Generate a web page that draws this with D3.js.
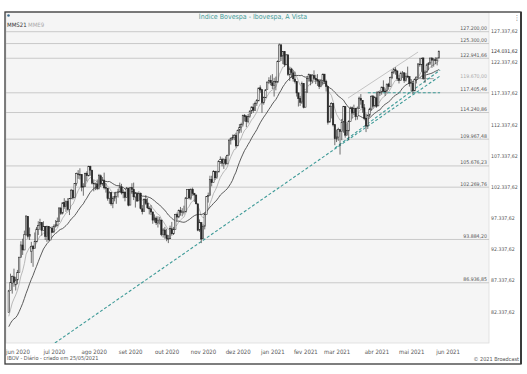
<!DOCTYPE html>
<html>
<head>
<meta charset="utf-8">
<script src="https://cdn.jsdelivr.net/npm/d3@7"></script>
<style>
  body { margin: 0; background: #fff; }
  text { font-family: "Liberation Sans Narrow", "DejaVu Sans Condensed", "Liberation Sans", sans-serif; }
</style>
</head>
<body>
<div id="chart"></div>
<script>
// Ibovespa daily candles, values in thousands of points: [open, high, low, close]
const may20 = [
  [82.2,85.8,82.2,85.66],[85.7,88.4,85.7,86.95],[86.9,88.1,85.2,87.95],[87.9,89.2,86.3,87.03],[86.6,87.9,85.7,87.40]
];
const jun20 = [
  [87.4,89.0,86.7,88.62],[88.6,91.0,88.6,91.05],[91.0,93.6,91.0,93.00],[93.0,94.0,91.4,92.21],[92.2,95.3,92.2,94.64],
  [94.6,97.7,94.6,97.65],[97.6,97.6,94.0,94.38],[94.4,95.8,93.8,94.69],[92.0,93.5,90.1,92.80],[92.8,93.0,89.5,92.38],
  [92.4,95.0,92.4,93.53],[93.5,95.9,93.5,95.55],[95.5,96.8,94.6,96.13],[96.1,97.2,95.4,96.57],[96.6,96.6,94.5,95.34],
  [95.3,96.8,95.3,95.98],[96.0,96.0,93.8,94.38],[94.4,96.1,93.5,95.98],[96.0,96.0,93.7,93.83],[93.8,95.9,93.8,95.74],
  [95.7,96.0,94.9,95.06]
];
const jul20 = [
  [95.1,96.3,94.9,95.96],[96.0,97.0,95.8,96.24],[96.2,97.4,96.0,96.77],[96.8,99.0,96.8,98.94],[98.9,99.1,97.8,98.06],
  [98.1,99.8,97.9,99.77],[99.8,100.5,98.8,99.16],[99.2,100.1,98.3,100.03],[100.0,100.5,98.5,98.70],[98.7,100.5,97.8,100.44],
  [100.4,102.0,100.4,101.79],[101.8,101.8,100.3,100.55],[100.6,102.9,100.5,102.89],[102.9,104.6,102.5,104.43],[104.4,105.0,103.6,104.31],
  [104.3,105.3,103.5,104.29],[104.3,104.3,101.6,102.29],[102.3,102.9,100.9,102.38],[102.4,104.6,102.4,104.48],[104.5,104.8,103.2,104.11],
  [104.1,105.7,104.0,105.61],[105.6,105.7,104.1,105.01],[105.0,105.0,102.7,102.91]
];
const aug20 = [
  [102.9,103.4,101.6,102.83],[102.8,103.0,101.8,102.80],[102.8,103.5,101.8,102.06],[102.1,104.4,101.9,104.13],[104.1,104.3,102.3,102.78],
  [102.8,103.9,102.5,103.44],[103.4,104.6,101.9,102.17],[102.2,102.9,101.4,102.12],[102.1,102.1,100.1,100.46],[100.5,101.6,99.6,101.35],
  [101.4,101.4,99.3,99.60],[99.6,100.8,98.9,100.46],[100.5,101.5,100.0,100.80],[100.8,101.3,99.6,101.47],[101.5,102.0,100.6,101.52],
  [101.5,103.0,101.5,102.30],[102.3,102.8,101.1,101.35],[101.4,101.9,100.5,101.45],[101.5,101.5,100.0,100.63],[100.6,102.3,100.6,102.14],
  [102.1,102.2,99.2,99.37]
];
const sep20 = [
  [99.4,102.3,99.4,102.17],[102.2,102.9,101.2,101.91],[101.9,103.0,100.2,100.72],[100.7,101.5,99.0,101.24],[101.2,101.5,99.9,100.05],
  [100.1,101.6,100.0,101.29],[101.3,101.4,98.7,98.84],[98.8,99.4,97.9,98.36],[98.4,100.5,98.4,100.27],[100.3,101.0,99.4,99.65],
  [99.7,100.5,98.8,98.95],[98.9,99.2,97.9,98.79],[98.8,99.4,97.8,98.29],[98.3,98.3,96.4,96.99],[97.0,97.9,96.6,97.35],
  [97.3,97.6,96.2,96.55],[96.5,97.6,95.8,96.99],[97.0,97.5,96.3,97.00],[97.0,97.0,94.4,94.67],[94.7,95.7,94.2,95.40],
  [95.4,95.9,94.0,94.60]
];
const oct20 = [
  [94.6,95.6,93.6,94.02],[94.0,94.6,93.3,94.02],[94.0,96.1,94.0,95.62],[95.6,96.7,94.5,94.80],[94.8,95.9,94.6,95.53],
  [95.5,98.0,95.5,97.92],[97.9,98.2,96.9,97.48],[97.5,98.7,97.3,98.50],[98.5,99.1,97.7,98.25],[98.2,98.9,97.6,98.31],
  [98.3,99.3,97.9,98.31],[98.3,100.7,98.3,100.54],[100.5,101.9,100.4,101.92],[101.9,102.0,100.3,100.55],[100.5,102.1,100.2,101.92],
  [101.9,102.2,100.9,101.26],[101.3,101.3,99.9,101.02],[101.0,101.1,99.5,99.61],[99.6,99.6,95.2,95.37],[95.4,97.1,95.1,96.58],
  [96.6,96.6,93.3,93.95]
];
const nov20 = [
  [94.0,96.3,94.0,95.98],[96.0,98.2,95.5,97.87],[97.9,100.8,97.9,100.75],[100.8,101.4,99.8,100.93],[100.9,104.1,100.9,103.52],
  [103.5,104.1,102.4,102.99],[103.0,105.0,103.0,104.81],[104.8,104.9,103.4,103.78],[103.8,104.9,103.6,104.72],[104.7,106.6,104.7,106.43],
  [106.4,107.2,106.0,106.67],[106.7,107.0,105.6,106.12],[106.1,106.9,105.2,106.67],[106.7,107.2,105.8,106.04],[106.0,107.5,106.0,107.38],
  [107.4,110.0,107.4,109.79],[109.8,110.2,109.1,110.13],[110.1,110.7,109.8,110.23],[110.2,110.8,109.8,110.58],[110.6,111.0,108.6,108.89]
];
const dec20 = [
  [108.9,111.5,108.9,111.40],[111.4,112.4,110.9,111.88],[111.9,112.6,111.0,112.29],[112.3,113.9,112.0,113.75],[113.8,114.0,112.8,113.59],
  [113.6,113.8,111.9,112.78],[112.8,114.0,112.5,113.62],[113.6,114.6,113.4,114.46],[114.5,115.2,114.0,115.13],[115.1,115.7,114.2,114.61],
  [114.6,116.0,114.6,115.71],[115.7,116.4,115.3,116.15],[116.1,118.2,116.1,118.17],[118.2,118.6,117.4,117.86],[117.9,117.9,114.2,115.82],
  [115.8,116.8,115.5,116.64],[116.6,118.0,116.6,117.86],[117.9,119.2,117.9,119.12],[119.1,119.9,118.8,119.41],[119.4,120.2,118.6,119.02]
];
const jan21 = [
  [119.0,120.4,118.0,118.56],[118.6,119.8,116.8,119.22],[119.2,120.0,117.8,119.10],[119.1,122.6,119.1,122.39],[122.4,125.3,122.4,125.08],
  [125.1,125.1,122.5,123.26],[123.3,124.1,122.0,124.00],[124.0,124.0,121.6,121.93],[121.9,123.6,121.9,123.48],[123.5,123.5,120.1,120.35],
  [120.3,121.5,119.3,121.24],[121.2,121.4,119.8,120.64],[120.6,121.0,119.2,119.65],[119.6,120.8,118.9,119.20],[119.2,119.2,116.8,117.38],
  [117.4,117.4,115.2,116.46],[116.5,116.9,115.3,115.88],[115.9,119.2,115.6,118.88],[118.9,118.9,114.9,115.07]
];
const feb21 = [
  [115.1,117.6,115.1,117.52],[117.5,120.0,117.5,119.72],[119.7,120.5,119.2,120.31],[120.3,120.3,118.6,119.26],[119.3,120.4,118.9,120.24],
  [120.2,121.0,119.4,119.70],[119.7,120.3,118.8,119.47],[119.5,120.4,118.5,119.30],[119.3,119.6,118.0,118.43],[118.4,119.6,118.3,119.43],
  [119.4,120.5,118.6,120.36],[120.4,120.4,118.9,119.20],[119.2,119.5,117.6,118.43],[118.4,118.4,112.3,112.67],[112.7,115.4,112.7,115.23],
  [115.2,115.9,113.3,115.67],[115.7,115.7,112.0,112.26],[112.3,112.3,109.0,110.04]
];
const mar21 = [
  [110.0,111.5,109.5,110.34],[110.3,111.8,109.7,111.54],[111.5,111.5,107.5,111.18],[111.2,113.2,109.8,112.69],[112.7,115.3,111.0,115.20],
  [115.2,115.2,110.2,110.61],[110.6,112.5,110.6,111.33],[111.3,113.0,109.8,112.78],[112.8,115.2,112.8,114.98],[115.0,115.2,113.3,114.16],
  [114.2,115.5,113.8,114.85],[114.9,115.0,113.0,113.62],[113.6,115.2,113.1,114.94],[114.9,116.8,114.9,116.55],[116.5,117.2,115.5,116.22],
  [116.2,116.2,114.2,114.98],[115.0,115.6,113.0,113.26],[113.3,114.0,111.1,112.06],[112.1,113.9,111.6,113.75],[113.8,115.0,113.5,114.78],
  [114.8,117.0,114.5,116.85],[116.9,117.0,114.9,115.25],[115.3,116.9,115.2,116.63]
];
const apr21 = [
  [116.6,117.6,115.0,115.25],[115.3,117.7,115.3,117.52],[117.5,117.8,116.9,117.50],[117.5,118.4,117.1,118.31],[118.3,119.4,117.6,117.62],
  [117.6,118.1,116.9,117.67],[117.7,118.8,117.3,118.81],[118.8,119.0,117.9,118.40],[118.4,120.0,118.4,119.87],[119.9,121.0,119.6,120.70],
  [120.7,121.4,120.4,121.11],[121.1,121.5,120.3,120.93],[120.9,121.0,119.3,119.66],[119.7,120.3,118.9,119.37],[119.4,120.8,119.4,120.53],
  [120.5,120.9,119.8,120.59],[120.6,120.7,119.0,119.39],[119.4,120.6,119.2,120.07],[120.1,121.6,119.8,119.96],[120.0,120.0,118.4,118.89]
];
const may21 = [
  [118.9,119.6,117.6,118.97],[119.0,119.0,117.2,117.71],[117.7,119.7,117.7,119.56],[119.6,120.0,118.9,119.92],[119.9,122.1,119.9,122.04],
  [122.0,123.0,121.6,121.91],[121.9,123.0,120.8,122.96],[123.0,123.0,119.5,119.71],[119.7,121.0,119.0,120.71],[120.7,122.1,120.7,121.88],
  [121.9,122.3,121.0,122.16],[122.2,123.0,121.9,122.98],[123.0,123.0,121.4,122.64],[122.6,123.0,121.6,122.70],[122.7,123.1,122.0,122.59],
  [122.6,123.0,121.8,122.99],[123.0,124.2,122.9,124.03162]
];
// closes before the first candle (needed to start the moving averages)
const prevCloses = [75.33,78.97,81.31,83.17,80.51,78.88,79.47,78.12,78.12,80.26,79.06,77.77,77.87,79.01,77.56,81.19,80.74,81.32,81.32,82.17];

// x axis: month labels and the trading-day index where each month starts (0 = 01/06/2020)
const monthLabels = ["jun 2020","jul 2020","ago 2020","set 2020","out 2020","nov 2020","dez 2020","jan 2021","fev 2021","mar 2021","abr 2021","mai 2021","jun 2021"];
const monthStarts = [0,21,44,65,86,107,127,147,166,184,207,227,248];

// right axis ticks and horizontal levels (thousands)
const rightTicks = [127.33762,122.33762,117.33762,112.33762,107.33762,102.33762,97.33762,92.33762,87.33762,82.33762];
const levels = [127.2,125.3,122.94166,117.40546,114.24086,109.96748,105.67623,102.26976,93.8842,86.93685];
const shortLevel = 119.67;

// drawn trend lines: [[dayIndex, value], [dayIndex, value]]
const supportLong = [[21.6,77.28],[243.7,120.1]];
const supportShort = [[183.1,108.55],[243.7,121.06]];
const channelTop = [[190.6,116.55],[231,123.94]];
const dashedLevel = [[202,117.40546],[243.7,117.40546]];
const shortLevelSpan = [232,240];

const firstIndex = -5;

const width = 527, height = 374;
const plot = {left: 6, right: 489, top: 12, bottom: 343};
const teal = "#3f9b98";

const fmt = d3.formatLocale({decimal: ",", thousands: ".", grouping: [3], currency: ["", ""]}).format(",.2f");
const label = v => fmt(v * 1000);

const candles = [].concat(may20, jun20, jul20, aug20, sep20, oct20, nov20, dec20, jan21, feb21, mar21, apr21, may21)
  .map((d, k) => ({i: firstIndex + k, o: d[0], h: d[1], l: d[2], c: d[3]}));

const svg = d3.select("#chart").append("svg")
  .attr("width", width)
  .attr("height", height);

const x = d3.scaleLinear().domain([-6.6, 271.9]).range([plot.left, plot.right]);
const y = d3.scaleLinear().domain([77.28, 130.36]).range([plot.bottom, plot.top]);

// plot background
svg.append("rect")
  .attr("x", plot.left).attr("y", plot.top)
  .attr("width", plot.right - plot.left).attr("height", plot.bottom - plot.top)
  .attr("fill", "#f5f5f5").attr("stroke", "#dcdcdc").attr("stroke-width", 0.8);

svg.append("clipPath").attr("id", "clip")
  .append("rect")
  .attr("x", plot.left).attr("y", plot.top)
  .attr("width", plot.right - plot.left).attr("height", plot.bottom - plot.top);

const g = svg.append("g").attr("clip-path", "url(#clip)");

// horizontal levels
g.selectAll(".level").data(levels).enter().append("line")
  .attr("x1", plot.left).attr("x2", plot.right)
  .attr("y1", d => y(d)).attr("y2", d => y(d))
  .attr("stroke", "#c4c4c4").attr("stroke-width", 0.9);

svg.selectAll(".levelLabel").data(levels).enter().append("text")
  .attr("x", plot.right - 2).attr("y", d => y(d) - 1.6)
  .attr("text-anchor", "end").attr("font-size", 5.2).attr("fill", "#555")
  .text(label);

g.append("line")
  .attr("x1", x(shortLevelSpan[0])).attr("x2", x(shortLevelSpan[1]))
  .attr("y1", y(shortLevel)).attr("y2", y(shortLevel))
  .attr("stroke", "#888").attr("stroke-width", 0.8);
svg.append("text")
  .attr("x", plot.right - 2).attr("y", y(shortLevel) - 0.5)
  .attr("text-anchor", "end").attr("font-size", 5.2).attr("fill", "#aaa")
  .text(label(shortLevel));

// moving averages
const closes = prevCloses.concat(candles.map(d => d.c));
const sma21 = candles.map((d, k) => {
  const end = prevCloses.length + k;
  return {i: d.i, v: d3.mean(closes.slice(end - 20, end + 1))};
});
const alpha = 2 / 10;
let ema = d3.mean(closes.slice(0, 9));
const emaAll = closes.map((c, k) => {
  if (k >= 9) ema = c * alpha + ema * (1 - alpha);
  return ema;
});
const ema9 = candles.map((d, k) => ({i: d.i, v: emaAll[prevCloses.length + k]}));

const line = d3.line().x(d => x(d.i)).y(d => y(d.v));
g.append("path").datum(ema9).attr("d", line)
  .attr("fill", "none").attr("stroke", "#a8a8a8").attr("stroke-width", 0.8);
g.append("path").datum(sma21).attr("d", line)
  .attr("fill", "none").attr("stroke", "#4a4a4a").attr("stroke-width", 0.9);

// trend lines
const seg = d3.line().x(d => x(d[0])).y(d => y(d[1]));
g.append("path").datum(channelTop).attr("d", seg)
  .attr("stroke", "#bdbdbd").attr("stroke-width", 0.9).attr("fill", "none");
[supportLong, supportShort, dashedLevel].forEach(s => {
  g.append("path").datum(s).attr("d", seg)
    .attr("stroke", teal).attr("stroke-width", 1.1).attr("fill", "none")
    .attr("stroke-dasharray", "3,2");
});

// candles
const step = x(1) - x(0);
const bw = step * 0.8;
const cg = g.append("g");
cg.selectAll(".wick").data(candles).enter().append("line")
  .attr("x1", d => x(d.i)).attr("x2", d => x(d.i))
  .attr("y1", d => y(d.h)).attr("y2", d => y(d.l))
  .attr("stroke", "#262626").attr("stroke-width", 0.65);
cg.selectAll(".body").data(candles).enter().append("rect")
  .attr("x", d => x(d.i) - bw / 2)
  .attr("y", d => y(Math.max(d.o, d.c)))
  .attr("width", bw)
  .attr("height", d => Math.max(0.6, Math.abs(y(d.o) - y(d.c))))
  .attr("fill", d => d.c >= d.o ? "#ffffff" : "#262626")
  .attr("stroke", "#262626").attr("stroke-width", 0.55);

// right axis
const ra = svg.append("g")
  .attr("transform", `translate(${plot.right + 2},0)`)
  .call(d3.axisRight(y).tickValues(rightTicks).tickSize(0).tickFormat(label));
ra.select(".domain").remove();
ra.selectAll("text").attr("font-size", 5.2).attr("fill", "#555")
  .attr("font-family", null).attr("x", 0);

const last = candles[candles.length - 1];
svg.append("text")
  .attr("x", plot.right + 2).attr("y", y(last.c)).attr("dy", "0.32em")
  .attr("font-size", 5.2).attr("fill", "#333")
  .text(label(last.c));

// bottom axis
const ba = svg.append("g")
  .attr("transform", `translate(0,${plot.bottom + 4})`)
  .call(d3.axisBottom(x).tickValues(monthStarts).tickSize(0)
    .tickFormat((d, k) => monthLabels[k]));
ba.select(".domain").remove();
ba.selectAll("text").attr("font-size", 6).attr("fill", "#555").attr("font-family", null);

// frame and texts
svg.append("rect")
  .attr("x", 5).attr("y", 12).attr("width", 516).attr("height", 352)
  .attr("fill", "none").attr("stroke", "#3a3a3a").attr("stroke-width", 1.3);
svg.append("line")
  .attr("x1", 521).attr("x2", 521).attr("y1", 12).attr("y2", 364)
  .attr("stroke", "#3a3a3a").attr("stroke-width", 2);

svg.append("text")
  .attr("x", 253).attr("y", 19).attr("text-anchor", "middle")
  .attr("font-size", 7).attr("fill", teal)
  .text("Índice Bovespa - Ibovespa, A Vista");

svg.append("text").attr("x", 7).attr("y", 27).attr("font-size", 6).attr("fill", "#333").text("MMS21");
svg.append("text").attr("x", 28).attr("y", 27).attr("font-size", 6).attr("fill", "#aaa").text("MME9");
svg.append("circle").attr("cx", 8.5).attr("cy", 15.5).attr("r", 1.3).attr("fill", "#3d6a8a");
svg.append("text").attr("x", 517).attr("y", 20).attr("text-anchor", "middle")
  .attr("font-size", 7).attr("fill", "#555").text("⋮");

svg.append("text").attr("x", 7).attr("y", 360).attr("font-size", 5.5).attr("fill", "#555")
  .text("IBOV - Diário - criado em 25/05/2021");
svg.append("text").attr("x", 519).attr("y", 361).attr("text-anchor", "end")
  .attr("font-size", 5.5).attr("fill", "#555").text("© 2021 Broadcast");
</script>
</body>
</html>
